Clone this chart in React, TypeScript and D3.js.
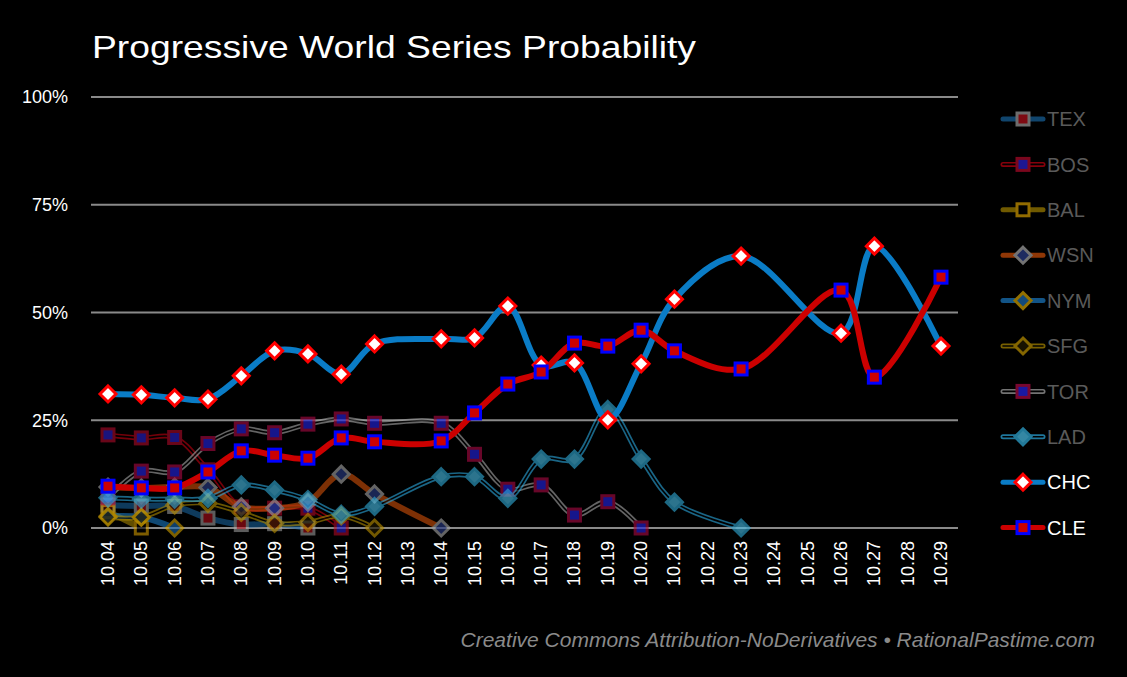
import React, { useEffect, useRef } from 'react'
import * as d3 from 'd3'

// dates on the x axis (10.04 .. 10.29)
const dates = [
  '10.04', '10.05', '10.06', '10.07', '10.08', '10.09', '10.10', '10.11', '10.12', '10.13',
  '10.14', '10.15', '10.16', '10.17', '10.18', '10.19', '10.20', '10.21', '10.22', '10.23',
  '10.24', '10.25', '10.26', '10.27', '10.28', '10.29'
]

const yTicks = [0, 25, 50, 75, 100]

// probabilities in %, one entry per date starting at 10.04 (null = no game day)
const texValues = [5.3, 5.1, 5.0, 2.3, 0.8, 1.0, 0]
const bosValues = [21.6, 20.9, 21.0, 13.5, 4.9, 4.6, 4.6, 0]
const balValues = [3.8, 0]
const wsnValues = [9.5, 9.3, 9.5, 9.4, 4.9, 4.6, 6.0, 12.5, 7.9, null, 0]
const nymValues = [2.7, 2.5, 0]
const sfgValues = [2.5, 2.5, 5.3, 5.7, 3.6, 1.1, 1.3, 2.8, 0]
const torValues = [7, 13.2, 13, 19.6, 23, 22.1, 24.1, 25.3, 24.3, null, 24.3, 17.1, 9, 10, 3, 6.1, 0]
const ladValues = [7, 6.7, 6.7, 6.9, 10, 8.8, 6.6, 3.2, 5, null, 11.9, 11.9, 6.9, 16, 16, 27.5, 16, 6, null, 0]
const chcValues = [
  31.1, 30.9, 30.2, 29.9, 35.3, 41.1, 40.4, 35.7, 42.7, null, 43.9, 44.1, 51.5, 37.8, 38.3,
  25.1, 38.1, 53.1, null, 63.1, null, null, 45.2, 65.4, null, 42.2
]
const cleValues = [
  9.7, 9.3, 9.3, 13, 17.9, 16.9, 16.2, 20.9, 20, null, 20.2, 26.7, 33.4, 36.2, 42.9,
  42.2, 45.9, 41.1, null, 36.9, null, null, 55.2, 35, null, 58.2
]

type Shape = 'square' | 'diamond'

interface SeriesStyle {
  name: string
  values: (number | null)[]
  line: string
  double: boolean
  shape: Shape
  fill: string
  stroke: string
  opacity: number
  label: string
}

const series: SeriesStyle[] = [
  { name: 'TEX', values: texValues, line: '#1a6aa8', double: false, shape: 'square', fill: '#c0101c', stroke: '#a8a8a8', opacity: 0.55, label: '#5a5a5a' },
  { name: 'BOS', values: bosValues, line: '#c00010', double: true, shape: 'square', fill: '#2a22d0', stroke: '#b00a2a', opacity: 0.6, label: '#5a5a5a' },
  { name: 'BAL', values: balValues, line: '#a08000', double: false, shape: 'square', fill: 'none', stroke: '#d09a00', opacity: 0.6, label: '#5a5a5a' },
  { name: 'WSN', values: wsnValues, line: '#c04a08', double: false, shape: 'diamond', fill: '#283a80', stroke: '#9a9a9a', opacity: 0.65, label: '#5a5a5a' },
  { name: 'NYM', values: nymValues, line: '#1a78c0', double: false, shape: 'diamond', fill: '#1a6ab0', stroke: '#d0a000', opacity: 0.6, label: '#5a5a5a' },
  { name: 'SFG', values: sfgValues, line: '#a08000', double: true, shape: 'diamond', fill: '#201800', stroke: '#b08800', opacity: 0.65, label: '#5a5a5a' },
  { name: 'TOR', values: torValues, line: '#9a9a9a', double: true, shape: 'square', fill: '#2222d8', stroke: '#a00a40', opacity: 0.65, label: '#5a5a5a' },
  { name: 'LAD', values: ladValues, line: '#2aa4d8', double: true, shape: 'diamond', fill: '#48bce4', stroke: '#30a8d4', opacity: 0.62, label: '#5a5a5a' },
  { name: 'CHC', values: chcValues, line: '#0a7cc6', double: false, shape: 'diamond', fill: '#ffffff', stroke: '#ff0000', opacity: 1, label: '#ffffff' },
  { name: 'CLE', values: cleValues, line: '#cc0000', double: false, shape: 'square', fill: '#cc0000', stroke: '#0000ff', opacity: 1, label: '#ffffff' }
]

const font = '"Liberation Sans", Arial, sans-serif'

const drawMarker = (
  g: d3.Selection<SVGGElement, unknown, null, undefined>,
  s: SeriesStyle,
  cx: number,
  cy: number
) => {
  if (s.shape === 'square') {
    g.append('rect')
      .attr('x', cx - 6)
      .attr('y', cy - 6)
      .attr('width', 12)
      .attr('height', 12)
      .attr('fill', s.fill === 'none' ? '#000' : s.fill)
      .attr('stroke', s.stroke)
      .attr('stroke-width', 3)
  } else {
    g.append('path')
      .attr('d', `M${cx},${cy - 8}L${cx + 8},${cy}L${cx},${cy + 8}L${cx - 8},${cy}Z`)
      .attr('fill', s.fill)
      .attr('stroke', s.stroke)
      .attr('stroke-width', 3)
      .attr('stroke-linejoin', 'miter')
  }
}

const App: React.FC = () => {
  const svgRef = useRef<SVGSVGElement>(null)

  useEffect(() => {
    document.body.style.margin = '0'
    document.body.style.background = '#000'
    if (!svgRef.current) return

    const svg = d3.select(svgRef.current)
    svg.selectAll('*').remove()

    const x = d3.scalePoint<string>().domain(dates).range([108, 941])
    const y = d3.scaleLinear().domain([0, 100]).range([528, 97])

    svg.append('rect').attr('width', 1127).attr('height', 677).attr('fill', '#000')

    // title
    svg.append('text')
      .attr('x', 92)
      .attr('y', 58)
      .attr('fill', '#fff')
      .style('font-family', font)
      .style('font-size', '32px')
      .attr('textLength', 604)
      .attr('lengthAdjust', 'spacingAndGlyphs')
      .text('Progressive World Series Probability')

    // grid + y labels
    const grid = svg.append('g')
    yTicks.forEach(t => {
      grid.append('line')
        .attr('x1', 91)
        .attr('x2', 958)
        .attr('y1', y(t))
        .attr('y2', y(t))
        .attr('stroke', '#8a8a8a')
        .attr('stroke-width', 2)
      grid.append('text')
        .attr('x', 68)
        .attr('y', y(t))
        .attr('dy', '0.36em')
        .attr('text-anchor', 'end')
        .attr('fill', '#fff')
        .style('font-family', font)
        .style('font-size', '18px')
        .text(`${t}%`)
    })

    // x labels (rotated)
    dates.forEach(d => {
      svg.append('text')
        .attr('transform', `translate(${(x(d) ?? 0) + 6},541) rotate(-90)`)
        .attr('text-anchor', 'end')
        .attr('fill', '#fff')
        .style('font-family', font)
        .style('font-size', '18px')
        .text(d)
    })

    const line = d3.line<[number, number]>()
      .x(p => p[0])
      .y(p => p[1])
      .curve(d3.curveCatmullRom.alpha(0.5))

    const plot = svg.append('g')

    series.forEach(s => {
      const pts: [number, number][] = []
      s.values.forEach((v, i) => {
        if (v !== null && v !== undefined) pts.push([x(dates[i]) ?? 0, y(v)])
      })
      const g = plot.append('g').attr('opacity', s.opacity)
      if (s.double) {
        g.append('path').attr('d', line(pts)).attr('fill', 'none')
          .attr('stroke', s.line).attr('stroke-width', 5)
        g.append('path').attr('d', line(pts)).attr('fill', 'none')
          .attr('stroke', '#000').attr('stroke-width', 1.6)
      } else {
        g.append('path').attr('d', line(pts)).attr('fill', 'none')
          .attr('stroke', s.line).attr('stroke-width', 6)
      }
      pts.forEach(p => drawMarker(g, s, p[0], p[1]))
    })

    // legend
    const legend = svg.append('g')
    series.forEach((s, i) => {
      const ly = 119 + i * 45.4
      const g = legend.append('g').attr('opacity', s.opacity < 1 ? Math.min(1, s.opacity + 0.1) : 1)
      if (s.double) {
        g.append('line').attr('x1', 1003).attr('x2', 1043).attr('y1', ly).attr('y2', ly)
          .attr('stroke', s.line).attr('stroke-width', 5).attr('stroke-linecap', 'round')
        g.append('line').attr('x1', 1003).attr('x2', 1043).attr('y1', ly).attr('y2', ly)
          .attr('stroke', '#000').attr('stroke-width', 1.6).attr('stroke-linecap', 'round')
      } else {
        g.append('line').attr('x1', 1003).attr('x2', 1043).attr('y1', ly).attr('y2', ly)
          .attr('stroke', s.line).attr('stroke-width', 5).attr('stroke-linecap', 'round')
      }
      drawMarker(g, s, 1023, ly)
      legend.append('text')
        .attr('x', 1047)
        .attr('y', ly)
        .attr('dy', '0.36em')
        .attr('fill', s.label)
        .style('font-family', font)
        .style('font-size', '20px')
        .text(s.name)
    })

    // footer
    svg.append('text')
      .attr('x', 1095)
      .attr('y', 647)
      .attr('text-anchor', 'end')
      .attr('fill', '#8a8a8a')
      .style('font-family', font)
      .style('font-style', 'italic')
      .style('font-size', '21px')
      .text('Creative Commons Attribution-NoDerivatives \u2022 RationalPastime.com')
  }, [])

  return <svg ref={svgRef} width={1127} height={677} style={{ display: 'block' }} />
}

export default App
